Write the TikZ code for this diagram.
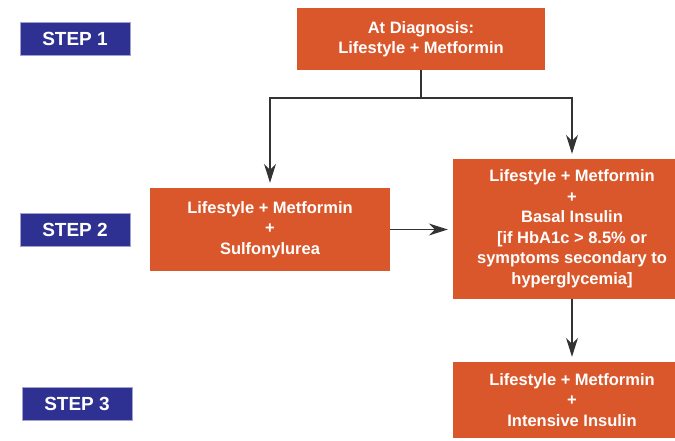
\documentclass[tikz,border=0pt]{standalone}
\usepackage{fontspec}
\setmainfont{Liberation Sans}
\usetikzlibrary{arrows.meta}
\definecolor{stepblue}{RGB}{46,49,146}
\definecolor{boxorange}{RGB}{217,87,43}
\tikzset{
  stepbox/.style={fill=stepblue, draw=stepblue!45!white, line width=0.6pt, text=white,
    font=\fontsize{19}{22}\selectfont\bfseries, minimum width=110pt, minimum height=33pt, inner sep=0pt},
  treatbox/.style={fill=boxorange, text=white, font=\fontsize{16.5}{20.5}\selectfont\bfseries,
    align=center, inner sep=0pt},
  link/.style={draw=black!80, line width=1.2pt},
  flow/.style={link, -{Stealth[length=19pt,width=12pt,inset=6pt]}, shorten >=5pt}
}
\begin{document}
\begin{tikzpicture}[x=1pt,y=-1pt]
\useasboundingbox (0,0) rectangle (675,440);
\node[stepbox] (step1) at (75,39){STEP 1};
\node[stepbox] (step2) at (75,229.5){STEP 2};
\node[stepbox] (step3) at (77,404){STEP 3};
\node[treatbox, minimum width=248pt, minimum height=62pt] (node) at (421,39){At Diagnosis:\\Lifestyle + Metformin};
\node[treatbox, minimum width=240pt, minimum height=83pt] (node0) at (270,229.5){Lifestyle + Metformin\\+\\Sulfonylurea};
\node[treatbox, minimum width=238pt, minimum height=140pt] (node1) at (572,229){Lifestyle + Metformin\\+\\Basal Insulin\\{}[if HbA1c > 8.5\% or\\symptoms secondary to\\hyperglycemia]};
\node[treatbox, minimum width=238pt, minimum height=76pt] (node10) at (572,400){Lifestyle + Metformin\\+\\Intensive Insulin};
\coordinate (split) at (421,98);
\draw[link] (node.south) -- (split);
\draw[flow] (split) -| (node0.north);
\draw[flow] (split) -| (node1.north);
\draw[flow] (node0.east) -- (node0.east -| node1.west);
\draw[flow] (node1.south) -- (node10.north);
\end{tikzpicture}
\end{document}
